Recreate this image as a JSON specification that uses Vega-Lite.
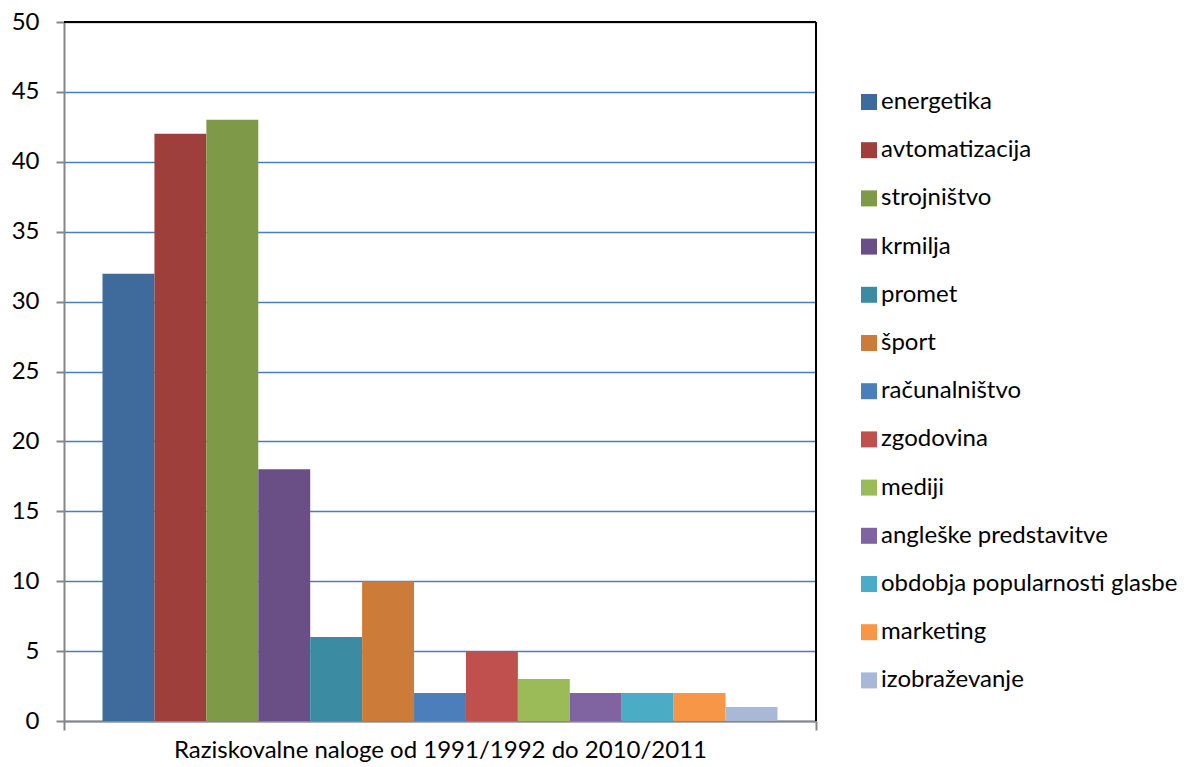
{
  "$schema": "https://vega.github.io/schema/vega-lite/v6.json",
  "width": 752,
  "height": 699,
  "autosize": {"type": "none"},
  "padding": {"left": 64, "top": 22, "right": 379, "bottom": 46},
  "background": "white",
  "config": {
    "font": "Lato",
    "view": {"stroke": null}
  },
  "data": {
    "values": [
      {"skupina": "Raziskovalne naloge od 1991/1992 do 2010/2011", "podrocje": "energetika", "st": 32},
      {"skupina": "Raziskovalne naloge od 1991/1992 do 2010/2011", "podrocje": "avtomatizacija", "st": 42},
      {"skupina": "Raziskovalne naloge od 1991/1992 do 2010/2011", "podrocje": "strojništvo", "st": 43},
      {"skupina": "Raziskovalne naloge od 1991/1992 do 2010/2011", "podrocje": "krmilja", "st": 18},
      {"skupina": "Raziskovalne naloge od 1991/1992 do 2010/2011", "podrocje": "promet", "st": 6},
      {"skupina": "Raziskovalne naloge od 1991/1992 do 2010/2011", "podrocje": "šport", "st": 10},
      {"skupina": "Raziskovalne naloge od 1991/1992 do 2010/2011", "podrocje": "računalništvo", "st": 2},
      {"skupina": "Raziskovalne naloge od 1991/1992 do 2010/2011", "podrocje": "zgodovina", "st": 5},
      {"skupina": "Raziskovalne naloge od 1991/1992 do 2010/2011", "podrocje": "mediji", "st": 3},
      {"skupina": "Raziskovalne naloge od 1991/1992 do 2010/2011", "podrocje": "angleške predstavitve", "st": 2},
      {"skupina": "Raziskovalne naloge od 1991/1992 do 2010/2011", "podrocje": " obdobja popularnosti glasbe", "st": 2},
      {"skupina": "Raziskovalne naloge od 1991/1992 do 2010/2011", "podrocje": "marketing", "st": 2},
      {"skupina": "Raziskovalne naloge od 1991/1992 do 2010/2011", "podrocje": "izobraževanje", "st": 1}
    ]
  },
  "layer": [
    {
      "mark": {"type": "bar", "stroke": null},
      "encoding": {
        "x": {
          "field": "skupina",
          "type": "nominal",
          "scale": {"paddingInner": 0, "paddingOuter": 0},
          "axis": {
            "title": null,
            "labelAngle": 0,
            "labelFontSize": 24,
            "labelColor": "#000000",
            "labelLimit": 0,
            "labelPadding": 8,
            "tickBand": "extent",
            "tickSize": 9,
            "tickColor": "#868686",
            "tickWidth": 2,
            "domainColor": "#868686",
            "domainWidth": 2,
            "grid": false
          }
        },
        "xOffset": {
          "field": "podrocje",
          "type": "nominal",
          "sort": null,
          "scale": {"paddingInner": 0, "paddingOuter": 0.742}
        },
        "y": {
          "field": "st",
          "type": "quantitative",
          "scale": {"domain": [0, 50], "nice": false},
          "axis": {
            "title": null,
            "values": [0, 5, 10, 15, 20, 25, 30, 35, 40, 45, 50],
            "labelFontSize": 24,
            "labelColor": "#000000",
            "labelPadding": 17,
            "tickSize": 8,
            "tickColor": "#868686",
            "tickWidth": 2,
            "domainColor": "#868686",
            "domainWidth": 2,
            "gridColor": "#4A7EBB",
            "gridWidth": 1.5
          }
        },
        "color": {
          "field": "podrocje",
          "type": "nominal",
          "sort": null,
          "scale": {
            "range": ["#3F6A9C", "#9E3F3C", "#7E9A48", "#6A4F86", "#3B8CA3", "#CC7B38", "#4C7EBB", "#C0504D", "#9BBB59", "#8064A2", "#4BACC6", "#F79646", "#A8B9D8"]
          },
          "legend": {
            "title": null,
            "orient": "none",
            "legendX": 793,
            "legendY": 68,
            "symbolType": "square",
            "symbolSize": 256,
            "symbolStrokeWidth": 0,
            "labelFontSize": 24,
            "labelColor": "#000000",
            "labelOffset": 0,
            "rowPadding": 24.2,
            "labelLimit": 400,
            "labelExpr": "indexof(datum.value, 'obdobja') == 1 ? '\u2002obdobja popularnosti glasbe' : datum.label"
          }
        }
      }
    },
    {
      "mark": {"type": "rule", "color": "#000000", "strokeWidth": 2},
      "encoding": {"y": {"datum": 50}}
    },
    {
      "mark": {"type": "rule", "color": "#000000", "strokeWidth": 2},
      "encoding": {"x": {"value": 752}}
    }
  ]
}
